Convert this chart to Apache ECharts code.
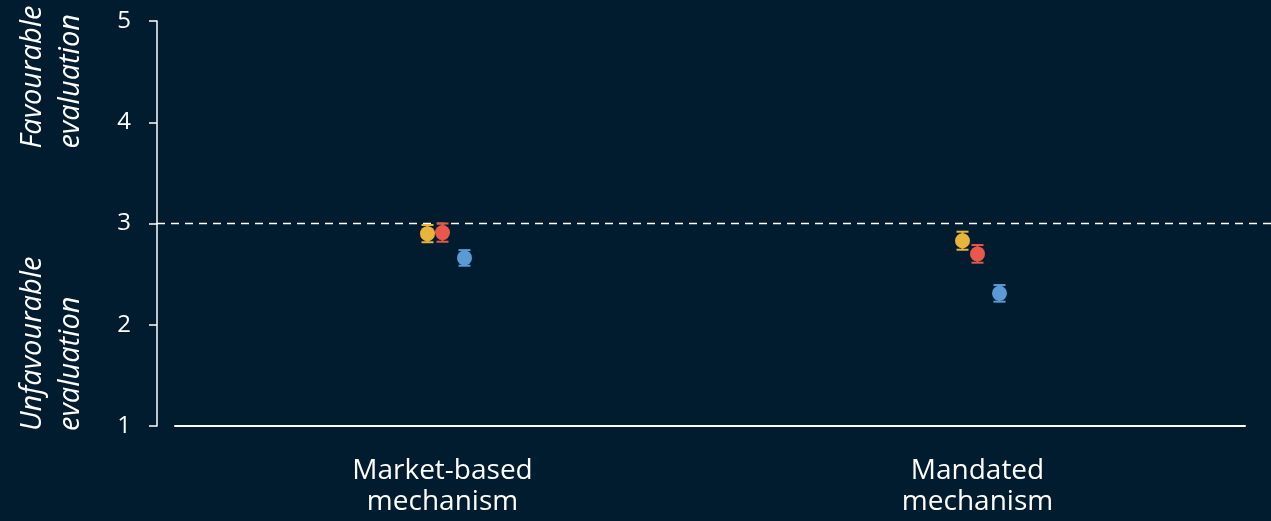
<!DOCTYPE html>
<html>
<head>
<meta charset="utf-8">
<script src="https://cdn.jsdelivr.net/npm/echarts@6/dist/echarts.min.js"></script>
<style>
  html, body { margin: 0; padding: 0; background: #011b2f; }
  #chart { width: 1271px; height: 521px; }
</style>
</head>
<body>
<div id="chart"></div>
<script>
// Mechanism types on the x axis
const categories = ['Market-based\nmechanism', 'Mandated\nmechanism'];

// Mean evaluation (1–5 scale) and error half-widths per group
const groupNames = ['Group 1', 'Group 2', 'Group 3'];
const meansGroup1 = [2.90, 2.83];
const errorsGroup1 = [0.085, 0.089];
const meansGroup2 = [2.91, 2.70];
const errorsGroup2 = [0.090, 0.087];
const meansGroup3 = [2.66, 2.31];
const errorsGroup3 = [0.077, 0.082];

// Y scale and neutral reference level
const yMin = 1, yMax = 5, yStep = 1;
const neutralLevel = 3;

const groupColors = ['#e8b43c', '#e9584b', '#5b9bd5'];
const dodgePx = [-15, 0, 22];

const FONT = '"Open Sans", "Noto Sans", sans-serif';

const chart = echarts.init(document.getElementById('chart'), null, { renderer: 'canvas' });

function makeSeries(idx, means, errors) {
  return {
    type: 'custom',
    name: groupNames[idx],
    data: means.map((m, i) => [i, m, errors[i]]),
    encode: { x: 0, y: 1 },
    z: 10 + idx,
    renderItem: function (params, api) {
      const cat = api.value(0);
      const mean = api.value(1);
      const err = api.value(2);
      const c = api.coord([cat, mean]);
      const top = api.coord([cat, mean + err]);
      const bot = api.coord([cat, mean - err]);
      const x = c[0] + dodgePx[idx];
      const capHalf = 6;
      const color = groupColors[idx];
      const lineStyle = { stroke: color, lineWidth: 2 };
      return {
        type: 'group',
        children: [
          { type: 'line', shape: { x1: x, y1: top[1], x2: x, y2: bot[1] }, style: lineStyle },
          { type: 'line', shape: { x1: x - capHalf, y1: top[1], x2: x + capHalf, y2: top[1] }, style: lineStyle },
          { type: 'line', shape: { x1: x - capHalf, y1: bot[1], x2: x + capHalf, y2: bot[1] }, style: lineStyle },
          { type: 'circle', shape: { cx: x, cy: c[1], r: 7.5 }, style: { fill: color } }
        ]
      };
    }
  };
}

const option = {
  backgroundColor: '#011b2f',
  animation: false,
  grid: { left: 175, right: 26, top: 21, bottom: 95, containLabel: false },
  xAxis: {
    type: 'category',
    data: categories,
    boundaryGap: true,
    axisLine: { show: true, lineStyle: { color: '#ffffff', width: 2 } },
    axisTick: { show: false },
    splitLine: { show: false },
    axisLabel: {
      color: '#ffffff',
      fontFamily: FONT,
      fontSize: 28,
      lineHeight: 31,
      margin: 30
    }
  },
  yAxis: {
    type: 'value',
    min: yMin,
    max: yMax,
    interval: yStep,
    offset: 18,
    axisLine: { show: true, lineStyle: { color: '#ffffff', width: 1.5 } },
    axisTick: { show: true, length: 8, inside: false, lineStyle: { color: '#ffffff', width: 1.5 } },
    splitLine: { show: false },
    axisLabel: {
      color: '#ffffff',
      fontFamily: FONT,
      fontSize: 24,
      margin: 26
    }
  },
  series: [
    makeSeries(0, meansGroup1, errorsGroup1),
    makeSeries(1, meansGroup2, errorsGroup2),
    makeSeries(2, meansGroup3, errorsGroup3)
  ]
};

chart.setOption(option);

// Neutral reference line and rotated axis annotations, placed from the y scale
const yNeutral = chart.convertToPixel({ yAxisIndex: 0 }, neutralLevel);
const yFavStart = chart.convertToPixel({ yAxisIndex: 0 }, 3.74);
const yUnfavStart = chart.convertToPixel({ yAxisIndex: 0 }, 0.95);
const yAxisX = chart.convertToPixel({ xAxisIndex: 0 }, 0) - 267.5 - 18;

const titleStyle = {
  fill: '#ffffff',
  font: 'italic 29px ' + FONT,
  lineHeight: 38,
  align: 'left',
  verticalAlign: 'middle'
};

chart.setOption({
  graphic: [
    {
      type: 'line',
      z: 5,
      shape: { x1: yAxisX, y1: yNeutral, x2: 1271, y2: yNeutral },
      style: { stroke: '#ffffff', lineWidth: 1.5, lineDash: [8, 6] }
    },
    {
      type: 'text',
      x: 52, y: yFavStart,
      rotation: Math.PI / 2,
      style: Object.assign({ text: 'Favourable\nevaluation' }, titleStyle)
    },
    {
      type: 'text',
      x: 52, y: yUnfavStart,
      rotation: Math.PI / 2,
      style: Object.assign({ text: 'Unfavourable\nevaluation' }, titleStyle)
    }
  ]
});
</script>
</body>
</html>
